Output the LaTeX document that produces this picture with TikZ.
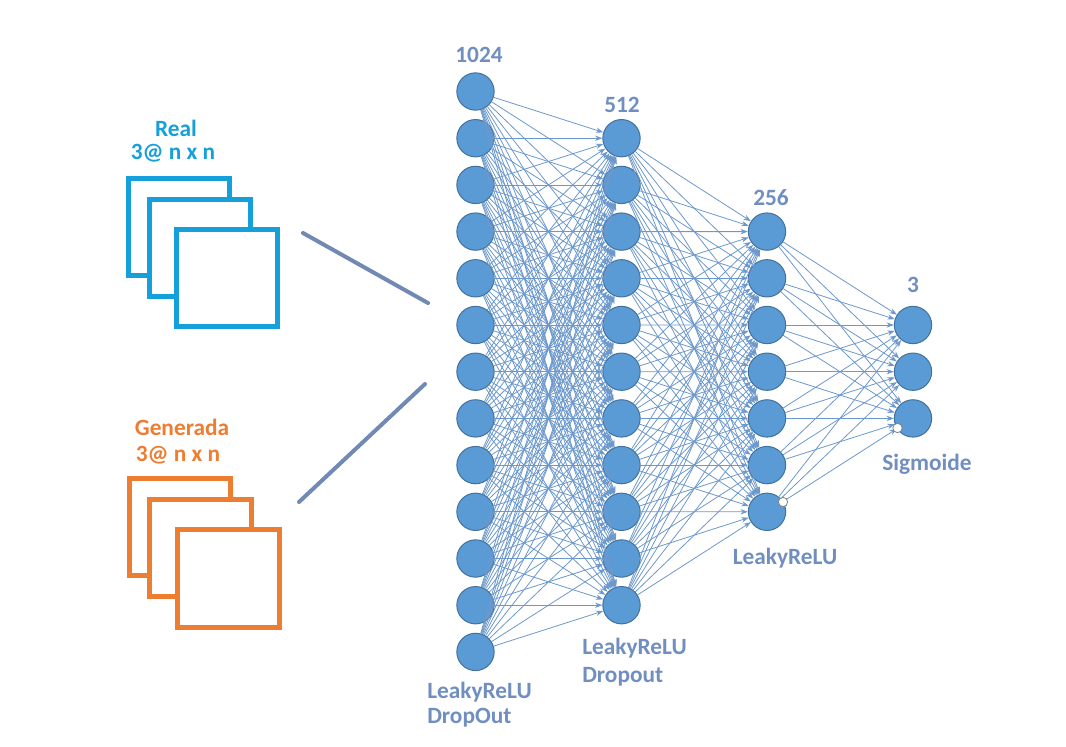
\documentclass[tikz,border=0pt]{standalone}
\usepackage{fontspec}
\setmainfont{Carlito}
\usetikzlibrary{arrows.meta}

\definecolor{nodefill}{RGB}{91,155,213}
\definecolor{nodeline}{RGB}{65,113,156}
\definecolor{edgeblue}{RGB}{108,152,204}
\definecolor{labelblue}{RGB}{112,143,192}
\definecolor{realblue}{RGB}{22,160,219}
\definecolor{genorange}{RGB}{237,125,49}
\definecolor{linkgray}{RGB}{114,137,181}

\tikzset{
  neuron/.style={circle, fill=nodefill, draw=nodeline, line width=0.75pt, minimum size=28pt, inner sep=0pt},
  synapse/.style={draw=edgeblue, line width=0.6pt, -{Stealth[length=5.5pt,width=4pt]}},
  knob/.style={circle, fill=white, draw=gray, line width=0.6pt, minimum size=7pt, inner sep=0pt},
  lbl/.style={inner sep=0.75pt, font=\fontsize{17.5}{20}\selectfont\bfseries},
  frame/.style={line width=3.75pt, fill=white}
}

\begin{document}
\begin{tikzpicture}[x=0.75pt,y=0.75pt,yscale=-1,xscale=1]
\useasboundingbox (0,0) rectangle (1066,746);

%Shape: Rectangles (Real)
\draw[frame, draw=realblue] (128,178) rectangle (229,275);
\draw[frame, draw=realblue] (149,199) rectangle (250,296);
\draw[frame, draw=realblue] (176,229) rectangle (277,326);
%Shape: Rectangles (Generada)
\draw[frame, draw=genorange] (129.5,478.5) rectangle (230.5,575.5);
\draw[frame, draw=genorange] (149.5,499.5) rectangle (251.5,596.5);
\draw[frame, draw=genorange] (177.5,529.5) rectangle (279.5,627.5);

%Layers
\foreach \i in {1,...,13} \node[neuron] (a\i) at (475.5,{91.5+46.7*(\i-1)}) {};
\foreach \i in {1,...,11} \node[neuron] (b\i) at (621.5,{138.2+46.7*(\i-1)}) {};
\foreach \i in {1,...,7} \node[neuron] (c\i) at (767,{231.6+46.7*(\i-1)}) {};
\foreach \i in {1,...,3} \node[neuron] (d\i) at (913,{325+46.7*(\i-1)}) {};

%Connections
\foreach \i in {1,...,13} \foreach \j in {1,...,11} \draw[synapse] (a\i) -- (b\j);
\foreach \i in {1,...,11} \foreach \j in {1,...,7} \draw[synapse] (b\i) -- (c\j);
\foreach \i in {1,...,7} \foreach \j in {1,...,3} \draw[synapse] (c\i) -- (d\j);

%Handles
\node[knob] (knobc) at (783,502) {};
\node[knob] (knobd) at (897.5,428) {};

%Straight Lines
\coordinate (realout) at (303,233);
\coordinate (realin) at (428,303);
\coordinate (genout) at (299,502);
\coordinate (genin) at (425,384);
\draw[linkgray, line width=3pt, line cap=round] (realout) -- (realin);
\draw[linkgray, line width=3pt, line cap=round] (genout) -- (genin);

% Text Node
\node[lbl, text=realblue] (treal) at (176,128) {Real};
\node[lbl, text=realblue] (trealsz) at (173,153) {3@ n x n};
\node[lbl, text=genorange] (tgen) at (182,427) {Generada};
\node[lbl, text=genorange] (tgensz) at (178,455) {3@ n x n};
% Text Node
\node[lbl, text=labelblue] (ta) at (479,55) {1024};
\node[lbl, text=labelblue] (tb) at (622,105) {512};
\node[lbl, text=labelblue] (tc) at (771,198) {256};
\node[lbl, text=labelblue] (td) at (913,285) {3};
% Text Node
\node[lbl, text=labelblue, anchor=west] (faa) at (426,692) {LeakyReLU};
\node[lbl, text=labelblue, anchor=west] (fab) at (426,718) {DropOut};
\node[lbl, text=labelblue, anchor=west] (fba) at (581,648) {LeakyReLU};
\node[lbl, text=labelblue, anchor=west] (fbb) at (581,677) {Dropout};
\node[lbl, text=labelblue] (fc) at (785,558) {LeakyReLU};
\node[lbl, text=labelblue] (fd) at (927,464) {Sigmoide};

\end{tikzpicture}
\end{document}
